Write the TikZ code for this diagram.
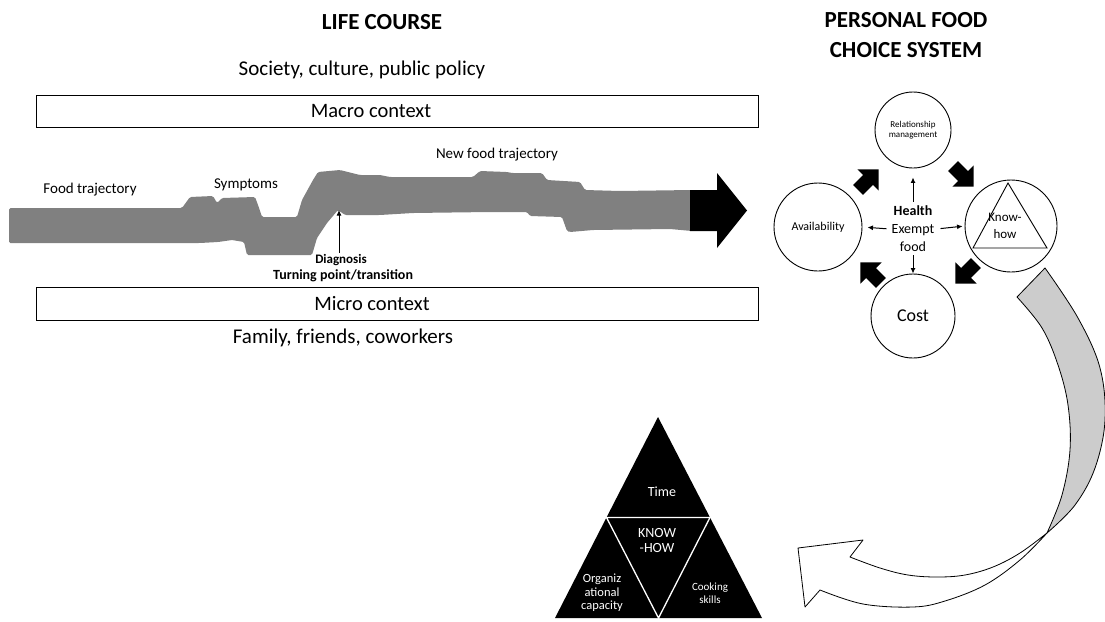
\documentclass[tikz,border=0pt]{standalone}
\usepackage{fontspec}
\setmainfont{Carlito}
\usetikzlibrary{arrows.meta}
\tikzset{
  fs/.style={font=\fontsize{#1}{#1}\selectfont},
  ctxbox/.style={draw, line width=0.9pt, inner sep=0pt},
  circ/.style={draw, circle, inner sep=0pt, line width=0.9pt},
  sarr/.style={-{Latex[length=5.5pt,width=5pt]}, line width=1pt},
  tri/.style={align=center, text=white, inner sep=0pt},
}
\newcommand{\blockarr}[3]{%
  \begin{scope}[shift={(#1,#2)}, rotate=#3]
    \fill (-14,-7) -- (0,-7) -- (0,-15) -- (15,0) -- (0,15) -- (0,7) -- (-14,7) -- cycle;
  \end{scope}}
\begin{document}
\begin{tikzpicture}[x=1pt, y=-1pt]
\useasboundingbox (0,0) rectangle (1105,621);
\fill[white] (0,0) rectangle (1105,621);

% ---------- LIFE COURSE ----------
\node[font=\bfseries\fontsize{23}{27}\selectfont] (lifecourse) at (382,22) {LIFE COURSE};
\node[fs=21] (society) at (362,70) {Society, culture, public policy};
\node[ctxbox, minimum width=722pt, minimum height=32pt, anchor=north west] (macro) at (36,95) {};
\node[fs=20.5] (macrotxt) at (371,111) {Macro context};

\node[ctxbox, minimum width=722pt, minimum height=33pt, anchor=north west] (micro) at (36,287) {};
\node[fs=20.5] (microtxt) at (372,304) {Micro context};
\node[fs=21] (family) at (343,338) {Family, friends, coworkers};

% trajectory band
\fill[black!50, rounded corners=1.5pt]
 (9,208) -- (182,208) -- (190,197) -- (213,196) -- (217,203) -- (222,198) -- (255,197)
 -- (258,205) -- (262,217) -- (297,217) -- (302,200) -- (313,180) -- (318,172)
 -- (340,170) -- (360,175) -- (380,175) -- (390,177) -- (473,177) -- (480,171)
 -- (507,172) -- (512,173) -- (542,173) -- (547,180) -- (580,182) -- (585,190)
 -- (620,191) -- (692,190)
 -- (692,231) -- (670,229) -- (593,230) -- (570,232) -- (567,231) -- (562,217)
 -- (530,216) -- (527,212) -- (490,212) -- (413,213) -- (380,215) -- (345,215)
 -- (338,210) -- (327,223) -- (317,238) -- (312,255) -- (247,255) -- (244,242)
 -- (232,240) -- (218,242) -- (200,243) -- (180,243) -- (9,243) -- cycle;
\fill (690,190) -- (717,190) -- (717,173) -- (747,210.5) -- (717,248) -- (717,231) -- (690,231) -- cycle;

\node[fs=15] (foodtraj) at (90,190) {Food trajectory};
\node[fs=15] (symptoms) at (246,185) {Symptoms};
\node[fs=15] (newfood) at (497,155) {New food trajectory};

\node[font=\bfseries\fontsize{13}{13}\selectfont, inner sep=1pt] (diag) at (341,260) {Diagnosis};
\node[font=\bfseries\fontsize{14}{14}\selectfont, inner sep=1pt] (turn) at (343,276) {Turning point/transition};
\coordinate (diagtip) at (339,210);
\draw[sarr] (diag.north -| diagtip) -- (diagtip);

% ---------- PERSONAL FOOD CHOICE SYSTEM ----------
\node[font=\bfseries\fontsize{23}{30}\selectfont, align=center] (pfcs) at (906,35) {PERSONAL FOOD\\CHOICE SYSTEM};

\node[circ, minimum size=76pt, align=center, font=\fontsize{9}{10.5}\selectfont] (rel) at (913,130) {Relationship\\management};
\node[circ, minimum size=88pt, fs=12] (avail) at (818,227) {Availability};
\node[circ, minimum size=92pt] (know) at (1011,226) {};
\node[circ, minimum size=84pt, fs=18] (cost) at (913,316) {Cost};
\draw[line width=0.9pt] (1008,183) -- (973,248) -- (1047,248) -- cycle;
\node[align=center, font=\fontsize{13}{17}\selectfont] (knowtxt) at (1005,226) {Know-\\how};

\node[align=center, font=\fontsize{14}{18}\selectfont, inner sep=2pt] (cen) at (913,229) {\textbf{Health}\\Exempt\\food};
\draw[sarr, shorten <=2pt, shorten >=9pt] (cen.north) -- (rel.south);
\draw[sarr, shorten <=3pt, shorten >=5pt] (cen.west) -- (avail.east);
\draw[sarr, shorten <=4pt, shorten >=2pt] (cen.east) -- (know.west);
\draw[sarr, shorten <=1pt, shorten >=0pt] (cen.south) -- (cost.north);

\blockarr{868}{180}{45}
\blockarr{963}{176}{-45}
\blockarr{966}{273}{-135}
\blockarr{871}{273}{135}

% ---------- curved arrow ----------
\filldraw[fill=black!20, line width=0.8pt, line join=round]
 (1045,268) -- (1017,297)
 -- plot[smooth, tension=0.6] coordinates {(1017,297) (1042,328) (1058,365) (1068,405) (1070,450) (1062,495) (1047,533)}
 -- plot[smooth, tension=0.6] coordinates {(1047,533) (1075,505) (1095,468) (1105,420) (1100,368) (1078,318) (1045,268)}
 -- cycle;
\filldraw[fill=white, line width=0.8pt, line join=round]
 (1047,533)
 -- plot[smooth, tension=0.6] coordinates {(1047,533) (1020,553) (993,567) (965,575) (937,577) (908,575) (880,568) (850,557)}
 -- (863,540) -- (798,548) -- (805,607) -- (820,590)
 -- plot[smooth, tension=0.6] coordinates {(820,590) (863,604) (913,607) (945,601) (985,585) (1020,560) (1047,533)}
 -- cycle;

% ---------- KNOW-HOW pyramid ----------
\fill (658,417) -- (762,618) -- (555,618) -- cycle;
\draw[white, line width=1.3pt] (606.5,517.5) -- (710,517.5) -- (658.5,618) -- cycle;
\node[tri, fs=14] (time) at (662,492) {Time};
\node[tri, font=\fontsize{14}{15}\selectfont] (kh) at (657,540) {KNOW\\-HOW};
\node[tri, font=\fontsize{12.5}{13.5}\selectfont] (org) at (602,593) {Organiz\\ational\\capacity};
\node[tri, font=\fontsize{11}{13}\selectfont] (cook) at (710,593) {Cooking\\skills};
\end{tikzpicture}
\end{document}
